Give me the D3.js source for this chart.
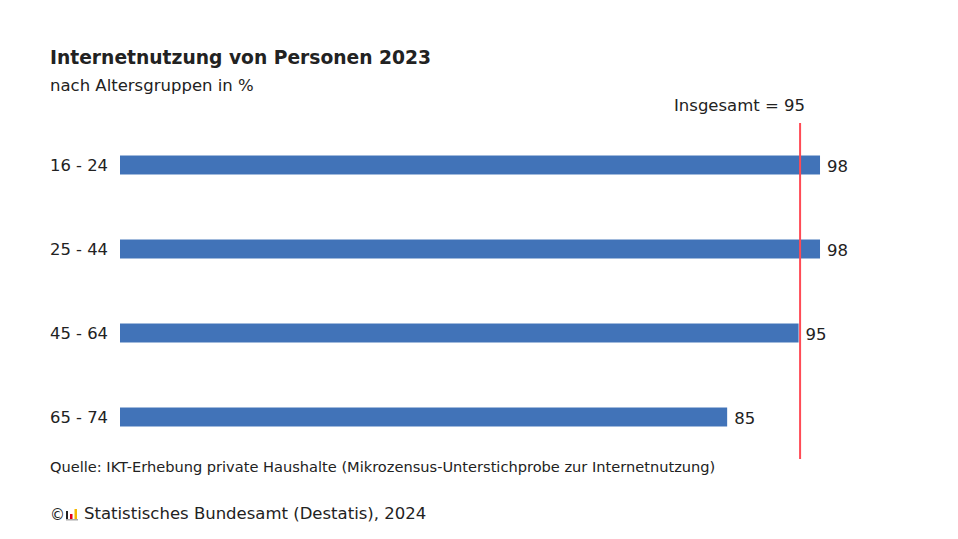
<!DOCTYPE html>
<html><head><meta charset="utf-8">
<script src="https://cdn.jsdelivr.net/npm/d3@7"></script>
<style>body{margin:0;background:#fff}svg{display:block}text{font-family:"DejaVu Sans",sans-serif;fill:#222}</style>
</head><body>
<svg id="c" width="958" height="539"></svg>
<script>
const categories = ["16 - 24", "25 - 44", "45 - 64", "65 - 74"];
const values = [98, 98, 95, 85];
const totalValue = 95;
const totalLabel = "Insgesamt = 95";
const title = "Internetnutzung von Personen 2023";
const subtitle = "nach Altersgruppen in %";
const source = "Quelle: IKT-Erhebung private Haushalte (Mikrozensus-Unterstichprobe zur Internetnutzung)";
const credit = "Statistisches Bundesamt (Destatis), 2024";

const svg = d3.select("#c");
const x = d3.scaleLinear().domain([0, 100]).range([120, 834.3]);
const y = d3.scaleBand().domain(categories).range([123, 459]).paddingInner(0.774).paddingOuter(0.387);

svg.append("text").attr("x", 50).attr("y", 64).style("font-size", "18.7px").style("font-weight", "bold").text(title);
svg.append("text").attr("x", 50).attr("y", 91).style("font-size", "16.5px").text(subtitle);

svg.selectAll("rect.bar").data(values).enter().append("rect").attr("class", "bar")
  .attr("x", x(0)).attr("y", (d, i) => y(categories[i]))
  .attr("width", d => x(d) - x(0)).attr("height", y.bandwidth())
  .attr("fill", "#4173b8");

svg.selectAll("text.cat").data(categories).enter().append("text").attr("class", "cat")
  .attr("x", 50).attr("y", d => y(d) + y.bandwidth() / 2).attr("dy", "0.36em")
  .style("font-size", "16.4px").text(d => d);

svg.selectAll("text.val").data(values).enter().append("text").attr("class", "val")
  .attr("x", d => x(d) + 7).attr("y", (d, i) => y(categories[i]) + y.bandwidth() / 2).attr("dy", "0.4em")
  .style("font-size", "16.5px").text(d => d);

svg.append("line").attr("x1", x(totalValue) + 1.5).attr("x2", x(totalValue) + 1.5)
  .attr("y1", 123).attr("y2", 459).attr("stroke", "#ff4b55").attr("stroke-width", 2);
svg.append("text").attr("x", x(totalValue) + 6.5).attr("y", 111).attr("text-anchor", "end")
  .style("font-size", "16.5px").text(totalLabel);

svg.append("text").attr("x", 50).attr("y", 472).style("font-size", "14.6px").text(source);

// credit with logo
svg.append("text").attr("x", 50).attr("y", 520).style("font-size", "15px").text("©");
const lg = svg.append("g").attr("transform", "translate(66,508)");
lg.append("rect").attr("x", 0).attr("y", 3).attr("width", 2).attr("height", 8).attr("fill", "#222");
lg.append("rect").attr("x", 4).attr("y", 6).attr("width", 2.5).attr("height", 5).attr("fill", "#e2001a");
lg.append("rect").attr("x", 8.5).attr("y", 1).attr("width", 2.5).attr("height", 10).attr("fill", "#f5b800");
lg.append("rect").attr("x", 0).attr("y", 11).attr("width", 12).attr("height", 1.5).attr("fill", "#aaa");
svg.append("text").attr("x", 84).attr("y", 519).style("font-size", "16.5px").text(credit);
</script>
</body></html>
